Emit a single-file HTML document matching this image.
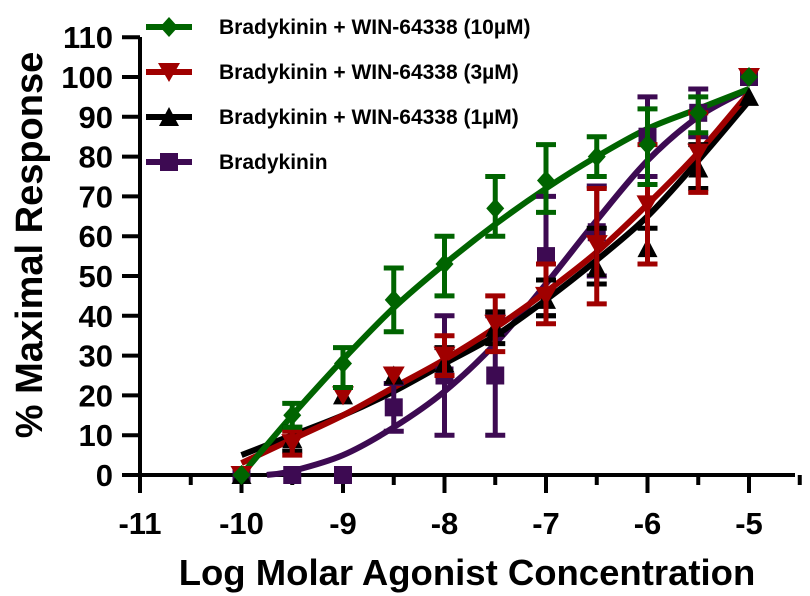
<!DOCTYPE html>
<html><head><meta charset="utf-8"><style>
body{margin:0;background:#fff;}
svg{display:block;font-family:"Liberation Sans",Arial,sans-serif;font-weight:bold;}
</style></head><body>
<svg id="s" width="810" height="596" viewBox="0 0 810 596" xmlns="http://www.w3.org/2000/svg"></svg>
<script>
const s=document.getElementById('s');
const NS='http://www.w3.org/2000/svg';
function el(t,a,txt){const e=document.createElementNS(NS,t);for(const k in a)e.setAttribute(k,a[k]);if(txt!==undefined)e.textContent=txt;s.appendChild(e);return e;}
const X=v=>140+(v+11)*101.5, Y=v=>475-v*3.98;
el('line',{x1:140,y1:37,x2:140,y2:477,stroke:'#000','stroke-width':4});
el('line',{x1:138,y1:475,x2:795,y2:475,stroke:'#000','stroke-width':4});
for(let i=0;i<=11;i++){const y=Y(i*10);el('line',{x1:122,y1:y,x2:140,y2:y,stroke:'#000','stroke-width':4});
 el('text',{x:113,y:y+11,'font-size':31,'text-anchor':'end'},i*10);}
for(let k=0;k<=13;k++){const v=-11+k*0.5,x=X(v);const maj=k%2==0;
 el('line',{x1:x,y1:475,x2:x,y2:maj?493:485,stroke:'#000','stroke-width':4});
 if(maj)el('text',{x:x,y:534,'font-size':31,'text-anchor':'middle'},v);}
el('text',{x:467,y:585,'font-size':36.5,'text-anchor':'middle'},'Log Molar Agonist Concentration');
el('text',{x:0,y:0,'font-size':38,'text-anchor':'middle',transform:'translate(42,245) rotate(-90)'},'% Maximal Response');
function curve(pts,c){let d='M'+X(pts[0][0])+','+Y(pts[0][1]);
 for(let i=0;i<pts.length-1;i++){const p0=pts[Math.max(0,i-1)],p1=pts[i],p2=pts[i+1],p3=pts[Math.min(pts.length-1,i+2)];
  const P=p=>[X(p[0]),Y(p[1])];const a=P(p0),b=P(p1),cc=P(p2),e=P(p3);
  d+=` C${b[0]+(cc[0]-a[0])/6},${b[1]+(cc[1]-a[1])/6} ${cc[0]-(e[0]-b[0])/6},${cc[1]-(e[1]-b[1])/6} ${cc[0]},${cc[1]}`;}
 el('path',{d:d,fill:'none',stroke:c,'stroke-width':6});}
function marker(t,x,y,c){
 if(t=='d')el('polygon',{points:`${x},${y-10} ${x+9},${y} ${x},${y+10} ${x-9},${y}`,fill:c});
 if(t=='v')el('polygon',{points:`${x-11},${y-9} ${x+11},${y-9} ${x},${y+10}`,fill:c});
 if(t=='^')el('polygon',{points:`${x-10},${y+9} ${x+10},${y+9} ${x},${y-10}`,fill:c});
 if(t=='s')el('rect',{x:x-9,y:y-9,width:18,height:18,fill:c});}
function series(data,c,t){data.forEach(p=>{const x=X(p[0]);
 if(p[2]!==undefined){el('line',{x1:x,y1:Y(p[2]),x2:x,y2:Y(p[3]),stroke:c,'stroke-width':5});
  [p[2],p[3]].forEach(v=>el('line',{x1:x-10,y1:Y(v),x2:x+10,y2:Y(v),stroke:c,'stroke-width':5}));}
 marker(t,x,Y(p[1]),c);});}
const P='#3d0a52',B='#000',R='#a00000',G='#006400';
curve([[-9.75,0],[-9.5,1],[-9,5],[-8.5,12],[-8,21],[-7.5,33],[-7,48],[-6.5,64],[-6,79],[-5.5,90],[-5,97]],P);
curve([[-10,5],[-9.5,10],[-9,15],[-8.5,21],[-8,28],[-7.5,35],[-7,44],[-6.5,54],[-6,65],[-5.5,79],[-5,94]],B);
curve([[-10,3],[-9.5,9],[-9,15],[-8.5,22],[-8,29],[-7.5,37],[-7,46],[-6.5,56],[-6,68],[-5.5,81],[-5,96]],R);
curve([[-10,0],[-9.5,15],[-9,29],[-8.5,42],[-8,53],[-7.5,63],[-7,72],[-6.5,80],[-6,87],[-5.5,92],[-5,97]],G);
series([[-10,0],[-9.5,0],[-9,0],[-8.5,17,11,23],[-8,25,10,40],[-7.5,25,10,40],[-7,55,40,70],[-6.5,61,50,72.6],[-6,85,75,95],[-5.5,91,85,97],[-5,100]],P,'s');
series([[-10,0],[-9.5,9,6,12],[-9,20],[-8.5,25],[-8,28,25,32],[-7.5,37,33,41],[-7,44,40,49],[-6.5,52,48,62],[-6,57,53,62],[-5.5,77,72,83],[-5,95]],B,'^');
series([[-10,0],[-9.5,8,5,11],[-9,20],[-8.5,25],[-8,30,25,35],[-7.5,38,31,45],[-7,45,38,53],[-6.5,58,43,72],[-6,68,53,83],[-5.5,81,71,91],[-5,100]],R,'v');
series([[-10,0],[-9.5,15,12,18],[-9,28,22,32],[-8.5,44,36,52],[-8,53,45,60],[-7.5,67,60,75],[-7,74,66,83],[-6.5,80,75,85],[-6,83,73,92],[-5.5,91,86,95],[-5,100]],G,'d');
[[G,'d','Bradykinin + WIN-64338 (10\u00b5M)',27],[R,'v','Bradykinin + WIN-64338 (3\u00b5M)',72],[B,'^','Bradykinin + WIN-64338 (1\u00b5M)',117],[P,'s','Bradykinin',162]].forEach(l=>{
 el('line',{x1:146,y1:l[3],x2:192,y2:l[3],stroke:l[0],'stroke-width':6});marker(l[1],169,l[3],l[0]);
 el('text',{x:219,y:l[3]+7,'font-size':21},l[2]);});
</script>
</body></html>
